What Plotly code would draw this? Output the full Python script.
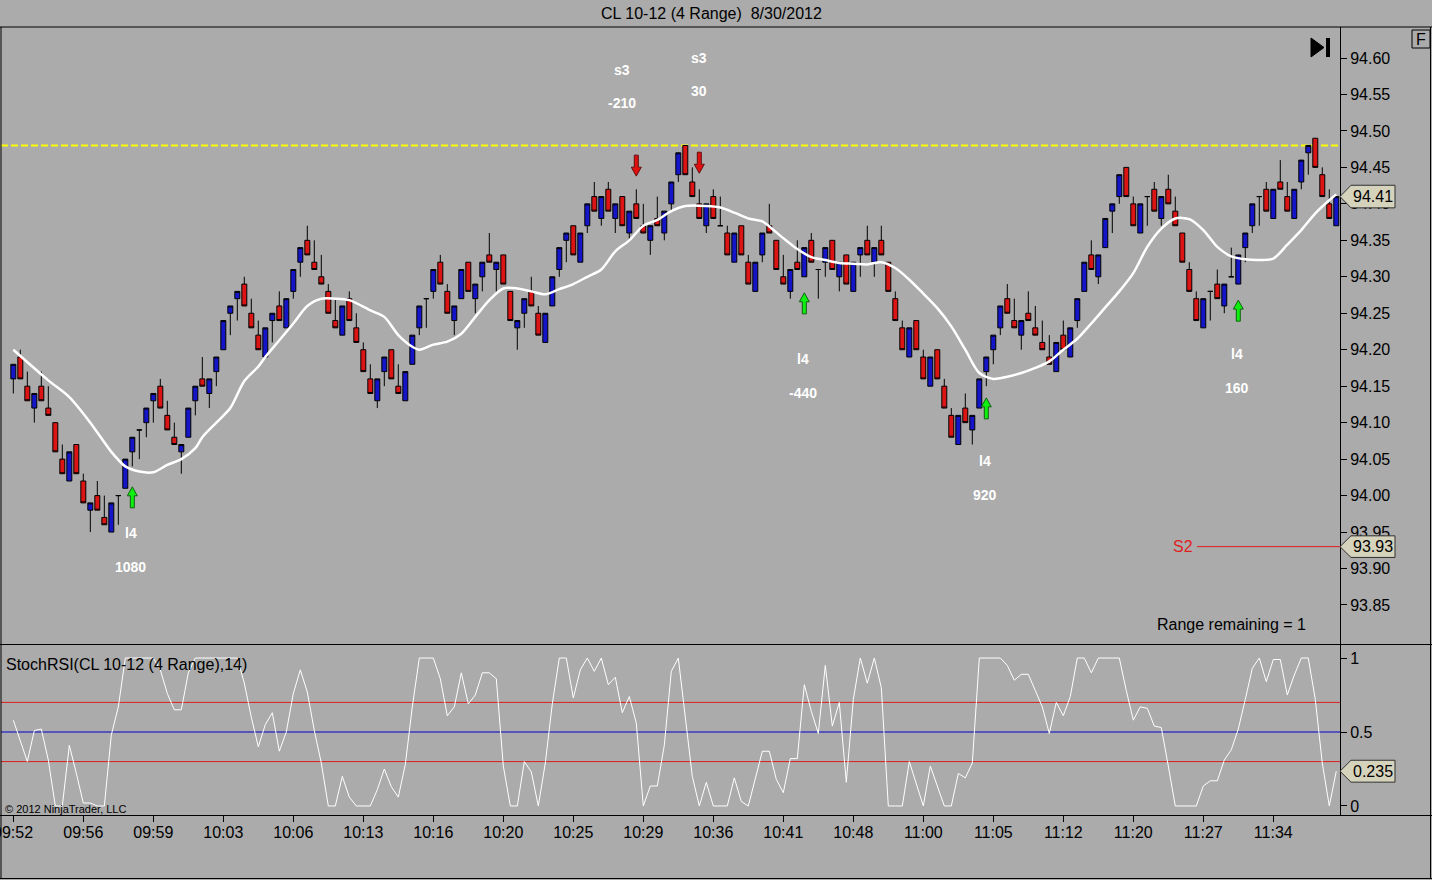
import plotly.graph_objects as go

# ---------------- data ----------------
opens = [
    94.16, 94.19, 94.15, 94.12, 94.15, 94.12, 94.10, 94.05, 94.02, 94.07,
    94.02, 93.98, 94.00, 93.97, 93.95, 94.00, 94.01, 94.06, 94.09, 94.10,
    94.13, 94.15, 94.11, 94.08, 94.06, 94.08, 94.13, 94.16, 94.14, 94.17,
    94.20, 94.25, 94.27, 94.29, 94.25, 94.22, 94.19, 94.24, 94.26, 94.23,
    94.28, 94.32, 94.35, 94.32, 94.30, 94.28, 94.24, 94.22, 94.27, 94.23,
    94.20, 94.16, 94.13, 94.17, 94.20, 94.15, 94.13, 94.18, 94.23, 94.27,
    94.28, 94.32, 94.28, 94.24, 94.27, 94.32, 94.27, 94.30, 94.33, 94.31,
    94.33, 94.28, 94.23, 94.25, 94.28, 94.25, 94.21, 94.26, 94.31, 94.35,
    94.37, 94.32, 94.37, 94.41, 94.38, 94.42, 94.38, 94.41, 94.36, 94.40,
    94.37, 94.35, 94.38, 94.36, 94.40, 94.44, 94.48, 94.43, 94.40, 94.37,
    94.41, 94.37, 94.36, 94.32, 94.37, 94.32, 94.28, 94.33, 94.37, 94.35,
    94.30, 94.28, 94.32, 94.30, 94.35, 94.31, 94.32, 94.35, 94.30, 94.33,
    94.28, 94.33, 94.35, 94.32, 94.35, 94.32, 94.27, 94.23, 94.19, 94.24,
    94.19, 94.15, 94.20, 94.15, 94.11, 94.07, 94.12, 94.09, 94.12, 94.17,
    94.20, 94.23, 94.27, 94.24, 94.22, 94.25, 94.23, 94.21, 94.19, 94.17,
    94.22, 94.19, 94.24, 94.28, 94.33, 94.30, 94.34, 94.39, 94.41, 94.45,
    94.40, 94.36, 94.41, 94.42, 94.38, 94.42, 94.39, 94.36, 94.31, 94.27,
    94.23, 94.28, 94.29, 94.26, 94.30, 94.29, 94.34, 94.37, 94.41, 94.42,
    94.38, 94.43, 94.41, 94.38, 94.43, 94.47, 94.49, 94.44, 94.40, 94.37,
]
highs = [
    94.18, 94.20, 94.17, 94.14, 94.17, 94.15, 94.10, 94.07, 94.06, 94.07,
    94.03, 93.99, 94.02, 94.00, 93.99, 94.00, 94.05, 94.08, 94.09, 94.12,
    94.14, 94.16, 94.13, 94.10, 94.07, 94.12, 94.15, 94.19, 94.16, 94.19,
    94.24, 94.26, 94.28, 94.30, 94.27, 94.24, 94.23, 94.25, 94.28, 94.27,
    94.31, 94.34, 94.37, 94.35, 94.33, 94.29, 94.27, 94.26, 94.28, 94.25,
    94.21, 94.18, 94.16, 94.19, 94.20, 94.18, 94.17, 94.22, 94.26, 94.27,
    94.31, 94.33, 94.29, 94.26, 94.31, 94.32, 94.29, 94.32, 94.36, 94.32,
    94.33, 94.28, 94.24, 94.27, 94.30, 94.26, 94.25, 94.30, 94.34, 94.36,
    94.37, 94.36, 94.40, 94.43, 94.41, 94.43, 94.40, 94.41, 94.39, 94.42,
    94.40, 94.37, 94.41, 94.39, 94.43, 94.47, 94.48, 94.45, 94.42, 94.40,
    94.42, 94.41, 94.37, 94.36, 94.37, 94.33, 94.32, 94.36, 94.40, 94.35,
    94.33, 94.31, 94.35, 94.34, 94.36, 94.31, 94.34, 94.35, 94.32, 94.33,
    94.32, 94.34, 94.37, 94.34, 94.37, 94.32, 94.28, 94.24, 94.23, 94.24,
    94.20, 94.19, 94.20, 94.16, 94.12, 94.11, 94.14, 94.11, 94.16, 94.19,
    94.22, 94.26, 94.29, 94.27, 94.24, 94.28, 94.26, 94.24, 94.22, 94.21,
    94.24, 94.23, 94.27, 94.32, 94.35, 94.33, 94.38, 94.40, 94.44, 94.45,
    94.41, 94.40, 94.41, 94.43, 94.41, 94.44, 94.41, 94.36, 94.32, 94.28,
    94.27, 94.28, 94.31, 94.29, 94.34, 94.33, 94.36, 94.40, 94.41, 94.43,
    94.42, 94.46, 94.43, 94.42, 94.46, 94.48, 94.49, 94.45, 94.42, 94.41,
]
lows = [
    94.14, 94.16, 94.13, 94.10, 94.13, 94.11, 94.06, 94.03, 94.02, 94.03,
    93.99, 93.95, 93.98, 93.96, 93.95, 93.96, 94.01, 94.04, 94.05, 94.08,
    94.10, 94.12, 94.09, 94.07, 94.03, 94.08, 94.11, 94.15, 94.12, 94.15,
    94.20, 94.22, 94.24, 94.26, 94.23, 94.20, 94.19, 94.21, 94.24, 94.23,
    94.27, 94.30, 94.33, 94.31, 94.29, 94.25, 94.23, 94.22, 94.24, 94.21,
    94.17, 94.14, 94.12, 94.15, 94.16, 94.14, 94.13, 94.18, 94.22, 94.23,
    94.27, 94.29, 94.25, 94.22, 94.27, 94.28, 94.25, 94.28, 94.32, 94.28,
    94.29, 94.24, 94.20, 94.23, 94.26, 94.22, 94.21, 94.26, 94.30, 94.32,
    94.33, 94.32, 94.36, 94.39, 94.37, 94.39, 94.36, 94.37, 94.35, 94.38,
    94.36, 94.33, 94.37, 94.35, 94.39, 94.43, 94.44, 94.41, 94.38, 94.36,
    94.38, 94.37, 94.33, 94.32, 94.33, 94.29, 94.28, 94.32, 94.36, 94.31,
    94.29, 94.27, 94.31, 94.30, 94.32, 94.27, 94.30, 94.31, 94.28, 94.29,
    94.28, 94.30, 94.33, 94.30, 94.33, 94.28, 94.24, 94.20, 94.19, 94.20,
    94.16, 94.15, 94.16, 94.12, 94.08, 94.07, 94.10, 94.07, 94.12, 94.15,
    94.18, 94.22, 94.25, 94.23, 94.20, 94.24, 94.22, 94.20, 94.18, 94.17,
    94.20, 94.19, 94.23, 94.28, 94.31, 94.29, 94.34, 94.36, 94.40, 94.41,
    94.37, 94.36, 94.37, 94.39, 94.37, 94.40, 94.37, 94.32, 94.28, 94.24,
    94.23, 94.24, 94.27, 94.25, 94.30, 94.29, 94.32, 94.36, 94.37, 94.39,
    94.38, 94.42, 94.39, 94.38, 94.42, 94.44, 94.45, 94.41, 94.38, 94.37,
]
closes = [
    94.18, 94.16, 94.13, 94.14, 94.13, 94.11, 94.06, 94.03, 94.06, 94.03,
    93.99, 93.99, 93.98, 93.96, 93.99, 94.00, 94.05, 94.08, 94.09, 94.12,
    94.14, 94.12, 94.09, 94.07, 94.07, 94.12, 94.15, 94.15, 94.16, 94.19,
    94.24, 94.26, 94.28, 94.26, 94.23, 94.20, 94.23, 94.25, 94.24, 94.27,
    94.31, 94.34, 94.33, 94.31, 94.29, 94.25, 94.23, 94.26, 94.24, 94.21,
    94.17, 94.14, 94.16, 94.19, 94.16, 94.14, 94.17, 94.22, 94.26, 94.27,
    94.31, 94.29, 94.25, 94.26, 94.31, 94.28, 94.29, 94.32, 94.32, 94.32,
    94.29, 94.24, 94.24, 94.27, 94.26, 94.22, 94.25, 94.30, 94.34, 94.36,
    94.33, 94.36, 94.40, 94.39, 94.41, 94.39, 94.40, 94.37, 94.39, 94.38,
    94.36, 94.37, 94.37, 94.39, 94.43, 94.47, 94.44, 94.41, 94.38, 94.40,
    94.38, 94.37, 94.33, 94.36, 94.33, 94.29, 94.32, 94.36, 94.36, 94.31,
    94.29, 94.31, 94.31, 94.34, 94.32, 94.31, 94.34, 94.31, 94.32, 94.29,
    94.32, 94.34, 94.33, 94.34, 94.33, 94.28, 94.24, 94.20, 94.23, 94.20,
    94.16, 94.19, 94.16, 94.12, 94.08, 94.11, 94.10, 94.11, 94.16, 94.19,
    94.22, 94.26, 94.25, 94.23, 94.24, 94.24, 94.22, 94.20, 94.18, 94.21,
    94.20, 94.23, 94.27, 94.32, 94.31, 94.33, 94.38, 94.40, 94.44, 94.41,
    94.37, 94.40, 94.41, 94.39, 94.41, 94.40, 94.37, 94.32, 94.28, 94.24,
    94.27, 94.28, 94.27, 94.29, 94.30, 94.33, 94.36, 94.40, 94.41, 94.39,
    94.42, 94.42, 94.39, 94.42, 94.46, 94.48, 94.45, 94.41, 94.38, 94.41,
]
bars = list(range(len(closes)))

# moving average (bar index, value)
ma_idx = [0, 5, 8, 11, 14, 16, 18, 20, 22, 24, 26, 27, 29, 31, 33, 35, 36, 38, 40,
          42, 44, 46, 48, 51, 53, 55, 57, 58, 60, 62, 64, 66, 68, 70, 72, 74, 76,
          78, 80, 82, 84, 86, 88, 90, 92, 94, 96, 99, 101, 103, 105, 107, 108,
          110, 112, 114, 116, 118, 120, 122, 124, 126, 128, 130, 132, 134, 136,
          138, 140, 142, 144, 146, 148, 150, 152, 154, 156, 158, 160, 162, 164,
          166, 168, 170, 172, 174, 176, 178, 180, 182, 184, 186, 188, 189]
ma_val = [94.200, 94.158, 94.135, 94.100, 94.060, 94.040, 94.033, 94.032, 94.042,
          94.050, 94.065, 94.080, 94.100, 94.120, 94.157, 94.177, 94.190, 94.213,
          94.236, 94.260, 94.270, 94.270, 94.268, 94.254, 94.245, 94.220, 94.204,
          94.200, 94.207, 94.211, 94.222, 94.245, 94.268, 94.284, 94.284, 94.280,
          94.276, 94.283, 94.290, 94.300, 94.310, 94.335, 94.350, 94.370, 94.378,
          94.390, 94.397, 94.397, 94.395, 94.388, 94.380, 94.376, 94.369, 94.353,
          94.338, 94.327, 94.323, 94.319, 94.318, 94.317, 94.320, 94.312, 94.296,
          94.277, 94.257, 94.232, 94.200, 94.168, 94.160, 94.163, 94.168, 94.175,
          94.184, 94.200, 94.215, 94.236, 94.258, 94.280, 94.305, 94.341, 94.366,
          94.380, 94.379, 94.364, 94.341, 94.328, 94.324, 94.323, 94.325, 94.344,
          94.364, 94.387, 94.405, 94.413]

stoch_rsi = [
    0.58, 0.44, 0.30, 0.51, 0.52, 0.31, 0.00, 0.00, 0.41, 0.22,
    0.02, 0.02, 0.00, 0.00, 0.48, 0.67, 1.00, 1.00, 1.00, 1.00,
    1.00, 0.92, 0.76, 0.65, 0.65, 0.90, 1.00, 1.00, 1.00, 1.00,
    1.00, 1.00, 1.00, 0.83, 0.60, 0.40, 0.55, 0.63, 0.37, 0.50,
    0.76, 0.92, 0.77, 0.51, 0.29, 0.00, 0.00, 0.20, 0.06, 0.00,
    0.00, 0.00, 0.11, 0.25, 0.13, 0.06, 0.28, 0.67, 1.00, 1.00,
    1.00, 0.86, 0.61, 0.67, 0.90, 0.69, 0.75, 0.90, 0.90, 0.86,
    0.27, 0.00, 0.00, 0.30, 0.23, 0.00, 0.29, 0.69, 1.00, 1.00,
    0.73, 0.92, 1.00, 0.91, 1.00, 0.82, 0.87, 0.63, 0.74, 0.56,
    0.00, 0.135, 0.135, 0.41, 0.91, 1.00, 0.58, 0.20, 0.00, 0.16,
    0.00, 0.00, 0.00, 0.19, 0.03, 0.00, 0.19, 0.37, 0.37, 0.18,
    0.09, 0.32, 0.32, 0.82, 0.64, 0.49, 0.95, 0.54, 0.70, 0.16,
    0.72, 1.00, 0.83, 1.00, 0.80, 0.00, 0.00, 0.00, 0.30, 0.15,
    0.00, 0.27, 0.13, 0.00, 0.00, 0.22, 0.19, 0.29, 1.00, 1.00,
    1.00, 1.00, 0.95, 0.85, 0.89, 0.89, 0.78, 0.67, 0.49, 0.70,
    0.61, 0.74, 1.00, 1.00, 0.90, 1.00, 1.00, 1.00, 1.00, 0.78,
    0.58, 0.67, 0.66, 0.54, 0.53, 0.27, 0.00, 0.00, 0.00, 0.00,
    0.135, 0.17, 0.17, 0.31, 0.38, 0.52, 0.72, 0.93, 1.00, 0.84,
    0.99, 0.99, 0.75, 0.885, 1.00, 1.00, 0.72, 0.29, 0.00, 0.235,
]

tick_bars = [0, 10, 20, 30, 40, 50, 60, 70, 80, 90, 100, 110, 120, 130, 140, 150, 160, 170, 180]
tick_times = ["09:52", "09:56", "09:59", "10:03", "10:06", "10:13", "10:16", "10:20", "10:25",
              "10:29", "10:36", "10:41", "10:48", "11:00", "11:05", "11:12", "11:20", "11:27", "11:34"]
price_ticks = [93.85, 93.90, 93.95, 94.00, 94.05, 94.10, 94.15, 94.20, 94.25, 94.30,
               94.35, 94.40, 94.45, 94.50, 94.55, 94.60]
stoch_ticks = [0, 0.5, 1]
stoch_tick_text = ["0", "0.5", "1"]

resistance_level = 94.48
s2_level = 93.93
stoch_upper, stoch_mid, stoch_lower = 0.7, 0.5, 0.3

long_bars = [17, 113, 139, 175]
long_arrow_top = [94.012, 94.278, 94.134, 94.268]
long_names = ["l4", "l4", "l4", "l4"]
long_values = ["1080", "-440", "920", "160"]
long_name_y = [93.949, 94.187, 94.047, 94.194]
long_value_y = [93.902, 94.141, 94.001, 94.147]

short_bars = [89, 98]
short_arrow_tip = [94.438, 94.442]
short_names = ["s3", "s3"]
short_values = ["-210", "30"]
short_label_x = [87, 98]
short_name_y = [94.5835, 94.600]
short_value_y = [94.538, 94.555]

title_text = "CL 10-12 (4 Range)\u00a0 8/30/2012"

# ---------------- styling ----------------
BG = "#ABABAB"
FONT = "Liberation Sans, Arial, sans-serif"
UP = "#1414C8"
DOWN = "#DC1414"
TAG = "#D6D3BC"

X0, X1 = -1.76, 189.53
Y0, Y1 = 93.7965, 94.6425
S0, S1 = -0.061, 1.088
W, H = 1432, 880
ML, MR, MT, MB = 1, 92, 27, 65
PW = W - ML - MR
PH = H - MT - MB


def px_x(px):
    return (px - ML) / PW


def px_y(py):
    return (H - MB - py) / PH


fig = go.Figure()

fig.add_trace(go.Candlestick(
    x=bars, open=opens, high=highs, low=lows, close=closes,
    increasing=dict(fillcolor=UP, line=dict(color="black", width=1)),
    decreasing=dict(fillcolor=DOWN, line=dict(color="black", width=1)),
    whiskerwidth=0, showlegend=False, xaxis="x", yaxis="y", hoverinfo="skip",
))

fig.add_trace(go.Scatter(
    x=ma_idx, y=ma_val, mode="lines",
    line=dict(color="white", width=2.5, shape="spline", smoothing=0.8),
    showlegend=False, xaxis="x", yaxis="y", hoverinfo="skip",
))

fig.add_trace(go.Scatter(
    x=bars, y=stoch_rsi, mode="lines",
    line=dict(color="white", width=1),
    showlegend=False, xaxis="x2", yaxis="y2", hoverinfo="skip",
))

shapes = []
# level lines
shapes.append(dict(type="line", xref="x", yref="y", x0=X0, x1=X1, y0=resistance_level,
                   y1=resistance_level, line=dict(color="#FFFF00", width=2, dash="7px,3px"),
                   layer="below"))
shapes.append(dict(type="line", xref="x", yref="y", x0=169.1, x1=X1, y0=s2_level, y1=s2_level,
                   line=dict(color="#E01E1E", width=1)))
for lv, col in [(stoch_upper, "#DC1E1E"), (stoch_mid, "#0000C8"), (stoch_lower, "#DC1E1E")]:
    shapes.append(dict(type="line", xref="x2", yref="y2", x0=X0, x1=X1, y0=lv, y1=lv,
                       line=dict(color=col, width=1), layer="below"))

# arrows
hw, sw = 0.714, 0.286
head_h, tot_h = 0.0123, 0.0288
for b, top in zip(long_bars, long_arrow_top):
    p = (f"M {b},{top} L {b+hw},{top-head_h} L {b+sw},{top-head_h} L {b+sw},{top-tot_h} "
         f"L {b-sw},{top-tot_h} L {b-sw},{top-head_h} L {b-hw},{top-head_h} Z")
    shapes.append(dict(type="path", xref="x", yref="y", path=p, fillcolor="#10F010",
                       line=dict(color="#106010", width=1)))
for b, tip in zip(short_bars, short_arrow_tip):
    p = (f"M {b},{tip} L {b+hw},{tip+head_h} L {b+sw},{tip+head_h} L {b+sw},{tip+tot_h} "
         f"L {b-sw},{tip+tot_h} L {b-sw},{tip+head_h} L {b-hw},{tip+head_h} Z")
    shapes.append(dict(type="path", xref="x", yref="y", path=p, fillcolor="#E01010",
                       line=dict(color="#601010", width=1)))

# frame lines
fl = dict(color="black", width=1)
shapes.append(dict(type="line", xref="paper", yref="paper", x0=px_x(0), x1=px_x(W), y0=px_y(27), y1=px_y(27), line=fl))
shapes.append(dict(type="line", xref="paper", yref="paper", x0=px_x(0), x1=px_x(W), y0=px_y(644.5), y1=px_y(644.5), line=fl))
shapes.append(dict(type="line", xref="paper", yref="paper", x0=px_x(0), x1=px_x(W), y0=px_y(815.5), y1=px_y(815.5), line=fl))
shapes.append(dict(type="line", xref="paper", yref="paper", x0=px_x(0), x1=px_x(W), y0=px_y(878.5), y1=px_y(878.5), line=fl))
shapes.append(dict(type="line", xref="paper", yref="paper", x0=px_x(1), x1=px_x(1), y0=px_y(27), y1=px_y(878.5), line=fl))
shapes.append(dict(type="line", xref="paper", yref="paper", x0=px_x(1430.5), x1=px_x(1430.5), y0=px_y(27), y1=px_y(878.5), line=fl))

# right-axis value tags
def tag(yref, val, half):
    xa, xb, xc = px_x(1340), px_x(1351), px_x(1395)
    return dict(type="path", xref="paper", yref=yref,
                path=f"M {xa},{val} L {xb},{val+half} L {xc},{val+half} L {xc},{val-half} L {xb},{val-half} Z",
                fillcolor=TAG, line=dict(color="#303030", width=1))

shapes.append(tag("y", closes[-1], 0.0155))
shapes.append(tag("y", s2_level, 0.0148))
shapes.append(tag("y2", stoch_rsi[-1], 0.074))

# go-to-end icon and F box
shapes.append(dict(type="path", xref="paper", yref="paper",
                   path=f"M {px_x(1311)},{px_y(38)} L {px_x(1324)},{px_y(47.5)} L {px_x(1311)},{px_y(57)} Z",
                   fillcolor="black", line=dict(color="black", width=1)))
shapes.append(dict(type="rect", xref="paper", yref="paper", x0=px_x(1326), x1=px_x(1330),
                   y0=px_y(57), y1=px_y(38), fillcolor="black", line=dict(color="black", width=0)))
shapes.append(dict(type="rect", xref="paper", yref="paper", x0=px_x(1412), x1=px_x(1430),
                   y0=px_y(48), y1=px_y(30), fillcolor="rgba(0,0,0,0)", line=dict(color="black", width=1)))

anns = []
def ann(text, x, y, xref, yref, size=16, color="black", bold=False, xanchor="center", yanchor="middle"):
    t = f"<b>{text}</b>" if bold else text
    anns.append(dict(text=t, x=x, y=y, xref=xref, yref=yref, showarrow=False,
                     font=dict(family=FONT, size=size, color=color),
                     xanchor=xanchor, yanchor=yanchor))

ann(title_text, px_x(711), px_y(13), "paper", "paper")
ann("F", px_x(1421), px_y(39), "paper", "paper", size=16)
ann(f"{closes[-1]:.2f}", px_x(1373), closes[-1], "paper", "y")
ann(f"{s2_level:.2f}", px_x(1373), s2_level, "paper", "y")
ann(f"{stoch_rsi[-1]:.3f}", px_x(1373), stoch_rsi[-1], "paper", "y2")
ann("S2", 167.1, s2_level, "x", "y", color="#E01E1E")
ann("Range remaining = 1", px_x(1308), px_y(624), "paper", "paper", xanchor="right")
ann("StochRSI(CL 10-12 (4 Range),14)", px_x(4), px_y(664), "paper", "paper", xanchor="left")
ann("\u00a9 2012 NinjaTrader, LLC", px_x(3), px_y(809), "paper", "paper", size=11, xanchor="left")
# first time label sits at the left edge and is clipped by the chart border
ann(tick_times[0], tick_bars[0], px_y(832), "x2", "paper")

for b, n, v, ny, vy in zip(long_bars, long_names, long_values, long_name_y, long_value_y):
    ann(n, b - 0.2, ny, "x", "y", size=14, color="white", bold=True)
    ann(v, b - 0.2, vy, "x", "y", size=14, color="white", bold=True)
for lx, n, v, ny, vy in zip(short_label_x, short_names, short_values, short_name_y, short_value_y):
    ann(n, lx, ny, "x", "y", size=14, color="white", bold=True)
    ann(v, lx, vy, "x", "y", size=14, color="white", bold=True)

axis_font = dict(family=FONT, size=16, color="black")
fig.update_layout(
    width=W, height=H,
    margin=dict(l=ML, r=MR, t=MT, b=MB, pad=0),
    paper_bgcolor=BG, plot_bgcolor=BG,
    showlegend=False,
    boxgap=0.29, boxgroupgap=0,
    font=dict(family=FONT, size=16, color="black"),
    xaxis=dict(domain=[0, 1], range=[X0, X1], anchor="y", showticklabels=False,
               showgrid=False, zeroline=False, showline=False, ticks="",
               rangeslider=dict(visible=False)),
    xaxis2=dict(domain=[0, 1], range=[X0, X1], anchor="y2", matches="x",
                tickvals=tick_bars, ticktext=tick_times, ticks="outside", ticklen=6,
                tickcolor="black", tickwidth=1, tickfont=axis_font, ticklabelstandoff=-3,
                showgrid=False, zeroline=False, showline=False),
    yaxis=dict(domain=[px_y(644), 1], range=[Y0, Y1], anchor="x", side="right",
               tickvals=price_ticks, ticktext=[f"{v:.2f}" for v in price_ticks],
               ticks="outside", ticklen=6, tickcolor="black", tickwidth=1,
               tickfont=axis_font, showgrid=False, zeroline=False,
               showline=True, linecolor="black", linewidth=1),
    yaxis2=dict(domain=[0, px_y(645)], range=[S0, S1], anchor="x2", side="right",
                tickvals=stoch_ticks, ticktext=stoch_tick_text,
                ticks="outside", ticklen=6, tickcolor="black", tickwidth=1,
                tickfont=axis_font, showgrid=False, zeroline=False,
                showline=True, linecolor="black", linewidth=1),
    shapes=shapes,
    annotations=anns,
)

fig.write_html("out.html", config={"displayModeBar": False},
               post_script="document.body.style.margin='0';document.body.style.overflow='hidden';")
